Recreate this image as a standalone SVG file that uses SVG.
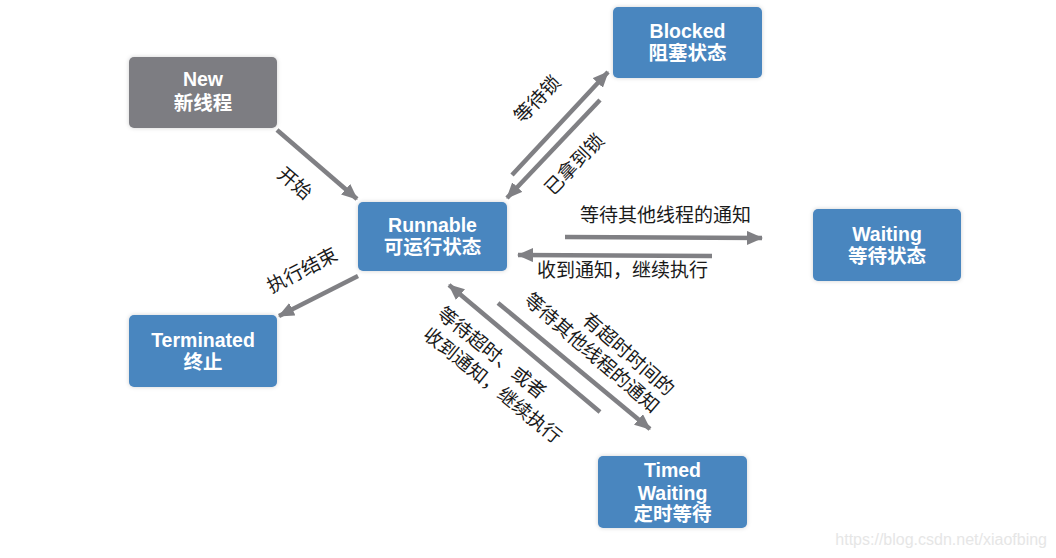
<svg xmlns="http://www.w3.org/2000/svg" width="1056" height="558" viewBox="0 0 1056 558">
<defs>
<style>
.node{stroke:none;filter:url(#sh)}
.blue{fill:#4a86bf}
.gray{fill:#7d7d82}
.nt{font-family:"Liberation Sans","Noto Sans CJK SC",sans-serif;font-weight:bold;font-size:19.5px;fill:#ffffff;text-anchor:middle}
.lb{font-family:"Noto Sans CJK SC",sans-serif;font-size:19px;fill:#1a1a1a}
.ar{stroke:#808084;stroke-width:4.5;fill:none;marker-end:url(#ah)}
.wm{font-family:"Liberation Sans",sans-serif;font-size:16px;fill:#e6e6e6;text-anchor:end}
</style>
<filter id="sh" x="-10%" y="-15%" width="120%" height="130%">
<feDropShadow dx="0" dy="0" stdDeviation="2" flood-color="#000" flood-opacity="0.18"/>
</filter>
<marker id="ah" markerUnits="userSpaceOnUse" markerWidth="16" markerHeight="14" refX="15" refY="7" orient="auto">
<path d="M0,0 L16,7 L0,14 Z" fill="#808084"/>
</marker>
</defs>
<rect width="1056" height="558" fill="#ffffff"/>
<g id="connectors">
<path class="ar" d="M277,130 L357,199"/>
<path class="ar" d="M358,276 L279,316"/>
<path class="ar" d="M512,175 L608,72"/>
<path class="ar" d="M600,100 L507,198"/>
<path class="ar" d="M565,237 L762,238"/>
<path class="ar" d="M712,256 L518,255"/>
<path class="ar" d="M498,303 L650,429"/>
<path class="ar" d="M600,412 L449,285"/>
</g>
<g id="labels">
<text class="lb" transform="translate(295,183) rotate(40)" text-anchor="middle" y="7">开始</text>
<text class="lb" transform="translate(302,270) rotate(-27)" text-anchor="middle" y="7">执行结束</text>
<text class="lb" transform="translate(537,99) rotate(-46)" text-anchor="middle" y="7">等待锁</text>
<text class="lb" transform="translate(574,164) rotate(-46)" text-anchor="middle" y="7">已拿到锁</text>
<text class="lb" x="580" y="222">等待其他线程的通知</text>
<text class="lb" x="537" y="277">收到通知，继续执行</text>
<g transform="translate(436,316) rotate(39)">
<text class="lb" x="0" y="0">等待超时、或者</text>
<text class="lb" x="2" y="25">收到通知，继续执行</text>
</g>
<g transform="translate(652,414) rotate(41)">
<text class="lb" text-anchor="end" x="0" y="-23">有超时时间的</text>
<text class="lb" text-anchor="end" x="0" y="0">等待其他线程的通知</text>
</g>
</g>
<g id="node-new">
<rect class="node gray" x="129" y="57" width="148" height="71" rx="5"/>
<text class="nt" x="203" y="86">New</text>
<text class="nt" x="203" y="110">新线程</text>
</g>
<g id="node-runnable">
<rect class="node blue" x="358" y="202" width="149" height="69" rx="5"/>
<text class="nt" x="432.5" y="232">Runnable</text>
<text class="nt" x="432.5" y="254">可运行状态</text>
</g>
<g id="node-blocked">
<rect class="node blue" x="613" y="7" width="149" height="71" rx="5"/>
<text class="nt" x="687.5" y="38">Blocked</text>
<text class="nt" x="687.5" y="60">阻塞状态</text>
</g>
<g id="node-waiting">
<rect class="node blue" x="813" y="209" width="148" height="72" rx="5"/>
<text class="nt" x="887" y="241">Waiting</text>
<text class="nt" x="887" y="263">等待状态</text>
</g>
<g id="node-terminated">
<rect class="node blue" x="129" y="315" width="148" height="72" rx="5"/>
<text class="nt" x="203" y="347">Terminated</text>
<text class="nt" x="203" y="369">终止</text>
</g>
<g id="node-timed">
<rect class="node blue" x="598" y="456" width="149" height="72" rx="5"/>
<text class="nt" x="672.5" y="477">Timed</text>
<text class="nt" x="672.5" y="500">Waiting</text>
<text class="nt" x="672.5" y="521">定时等待</text>
</g>
<text class="wm" x="1047" y="545">https://blog.csdn.net/xiaofbing</text>
</svg>
